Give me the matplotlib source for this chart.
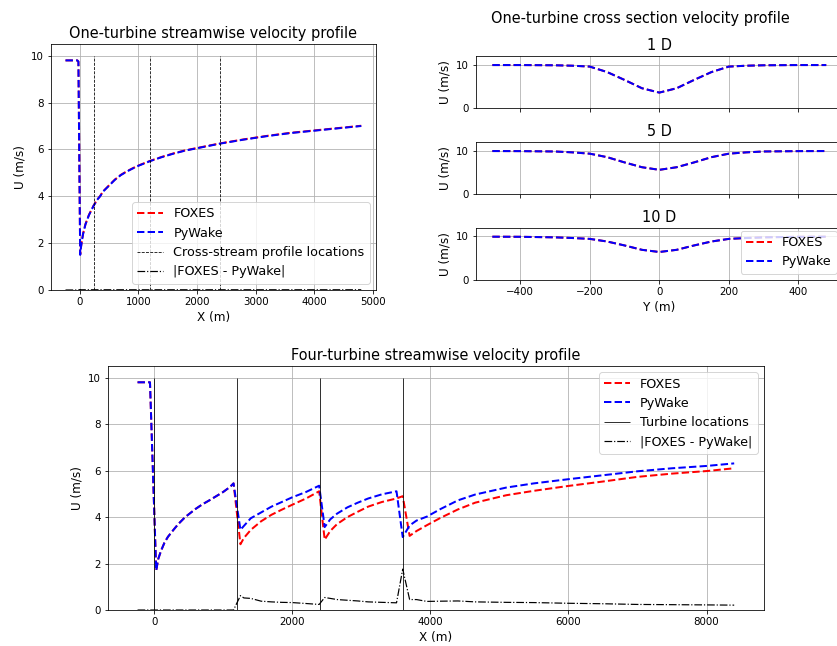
import numpy as np
from matplotlib import pyplot as plt

D = 240  # rotor diameter (m)

# one-turbine centreline profile
x_one = [-240, -40, -20, 10, 25, 40, 60, 80, 100, 130, 160, 200, 240, 300,
         350, 400, 500, 600, 700, 800, 900, 1000, 1200, 1400, 1600, 1800,
         2000, 2400, 2800, 3200, 3600, 4000, 4400, 4800]
u_one_pywake = [9.8, 9.8, 9.75, 1.5, 1.85, 2.1, 2.4, 2.6, 2.8, 3.0, 3.2, 3.4,
                3.6, 3.85, 4.0, 4.2, 4.45, 4.7, 4.9, 5.05, 5.18, 5.3, 5.5,
                5.67, 5.82, 5.95, 6.05, 6.25, 6.42, 6.57, 6.7, 6.8, 6.9, 7.0]
u_one_foxes = [9.8, 9.8, 9.75, 1.52, 1.86, 2.11, 2.41, 2.61, 2.81, 3.01, 3.21,
               3.41, 3.61, 3.86, 4.01, 4.21, 4.46, 4.71, 4.91, 5.06, 5.19,
               5.31, 5.51, 5.68, 5.83, 5.96, 6.06, 6.26, 6.43, 6.58, 6.71,
               6.81, 6.91, 7.01]
profile_x = [1 * D, 5 * D, 10 * D]

# cross-stream profiles at 1D, 5D, 10D
y_cross = [-480, -400, -300, -250, -200, -150, -100, -50, 0,
           50, 100, 150, 200, 250, 300, 400, 480]
u_cross_1d = [9.9, 9.9, 9.85, 9.75, 9.55, 8.3, 6.5, 4.6, 3.6,
              4.6, 6.5, 8.3, 9.55, 9.75, 9.85, 9.9, 9.9]
u_cross_5d = [9.9, 9.88, 9.8, 9.6, 9.3, 8.5, 7.3, 6.2, 5.6,
              6.2, 7.3, 8.5, 9.3, 9.6, 9.8, 9.88, 9.9]
u_cross_10d = [9.9, 9.88, 9.75, 9.6, 9.4, 8.8, 7.9, 6.9, 6.4,
               6.9, 7.9, 8.8, 9.4, 9.6, 9.75, 9.88, 9.9]
cross_titles = ["1 D", "5 D", "10 D"]

# four-turbine centreline profile
x_four = [-240, -60, 30, 60, 100, 150, 200, 280, 350, 450, 600, 700, 800,
          900, 1000, 1100, 1150,
          1250, 1300, 1400, 1550, 1700, 1850, 2000, 2200, 2390,
          2470, 2550, 2650, 2800, 2950, 3100, 3300, 3510, 3600,
          3700, 3800, 3950, 4150, 4400, 4650, 5100, 5500, 6000, 6500, 7000,
          7500, 8000, 8400]
u_four_pywake = [9.8, 9.8, 1.7, 2.2, 2.55, 2.9, 3.15, 3.45, 3.7, 4.0, 4.35,
                 4.55, 4.72, 4.9, 5.08, 5.3, 5.45,
                 3.45, 3.62, 3.95, 4.2, 4.45, 4.65, 4.85, 5.08, 5.35,
                 3.57, 3.9, 4.15, 4.42, 4.62, 4.8, 4.98, 5.11, 3.14,
                 3.64, 3.85, 4.02, 4.35, 4.72, 4.97, 5.27, 5.45, 5.63, 5.8,
                 5.97, 6.1, 6.2, 6.31]
u_four_foxes = [9.8, 9.8, 1.7, 2.2, 2.55, 2.9, 3.15, 3.45, 3.7, 4.0, 4.35,
                4.55, 4.72, 4.9, 5.08, 5.3, 5.45,
                2.83, 3.1, 3.45, 3.82, 4.1, 4.32, 4.53, 4.8, 5.11,
                3.03, 3.4, 3.7, 4.0, 4.23, 4.45, 4.65, 4.8, 4.9,
                3.19, 3.4, 3.65, 3.97, 4.33, 4.62, 4.94, 5.13, 5.34, 5.53,
                5.73, 5.87, 5.98, 6.1]
turbine_x = [0, 5 * D, 10 * D, 15 * D]

plt.rcParams.update({
    "font.size": 12,
    "xtick.labelsize": 10.2,
    "ytick.labelsize": 10.2,
    "axes.labelsize": 12,
    "axes.titlesize": 14.5,
    "legend.fontsize": 12.8,
})


def main():
    fig = plt.figure(figsize=(837 / 72, 646 / 72), dpi=72)

    # one-turbine streamwise
    ax = fig.add_axes([0.0606, 0.5511, 0.3887, 0.3808])
    ax.plot(x_one, u_one_foxes, "r--", lw=2, label="FOXES")
    ax.plot(x_one, u_one_pywake, "b--", lw=2, label="PyWake")
    ax.vlines(profile_x, 0, 10, colors="k", linestyles="--", lw=0.8,
              label="Cross-stream profile locations")
    diff_one = np.abs(np.array(u_one_foxes) - np.array(u_one_pywake))
    ax.plot(x_one, diff_one, "k-.", lw=1.2, label="|FOXES - PyWake|")
    ax.set_ylim(0, 10.5)
    ax.set_title("One-turbine streamwise velocity profile")
    ax.set_xlabel("X (m)")
    ax.set_ylabel("U (m/s)")
    ax.grid()
    ax.legend(loc="lower right")

    # cross-stream profiles
    fig.text(0.7646, 1 - 18 / 646, "One-turbine cross section velocity profile",
             ha="center", va="center", fontsize=14.5)
    bottoms = [0.8323, 0.6992, 0.5666]
    axes_cs = []
    for i, (u, title) in enumerate(zip([u_cross_1d, u_cross_5d, u_cross_10d],
                                       cross_titles)):
        axc = fig.add_axes([0.5683, bottoms[i], 0.4388, 0.0812],
                           sharex=axes_cs[0] if axes_cs else None)
        axc.plot(y_cross, u, "r--", lw=2, label="FOXES")
        axc.plot(y_cross, u, "b--", lw=2, label="PyWake")
        axc.set_ylim(0, 12)
        axc.set_yticks([0, 10])
        axc.set_title(title)
        axc.set_ylabel("U (m/s)")
        axc.grid()
        if i < 2:
            axc.tick_params(labelbottom=False)
        axes_cs.append(axc)
    axes_cs[-1].set_xlabel("Y (m)")
    axes_cs[-1].legend(loc="lower right")

    # four-turbine streamwise
    ax4 = fig.add_axes([0.1287, 0.0557, 0.7841, 0.3777])
    ax4.plot(x_four, u_four_foxes, "r--", lw=2, label="FOXES")
    ax4.plot(x_four, u_four_pywake, "b--", lw=2, label="PyWake")
    ax4.vlines(turbine_x, 0, 10, colors="k", lw=0.8, label="Turbine locations")
    diff_four = np.abs(np.array(u_four_foxes) - np.array(u_four_pywake))
    ax4.plot(x_four, diff_four, "k-.", lw=1.2, label="|FOXES - PyWake|")
    ax4.set_ylim(0, 10.5)
    ax4.set_title("Four-turbine streamwise velocity profile")
    ax4.set_xlabel("X (m)")
    ax4.set_ylabel("U (m/s)")
    ax4.grid()
    ax4.legend(loc="upper right")

    fig.savefig("out.png", dpi=72)


if __name__ == "__main__":
    main()
